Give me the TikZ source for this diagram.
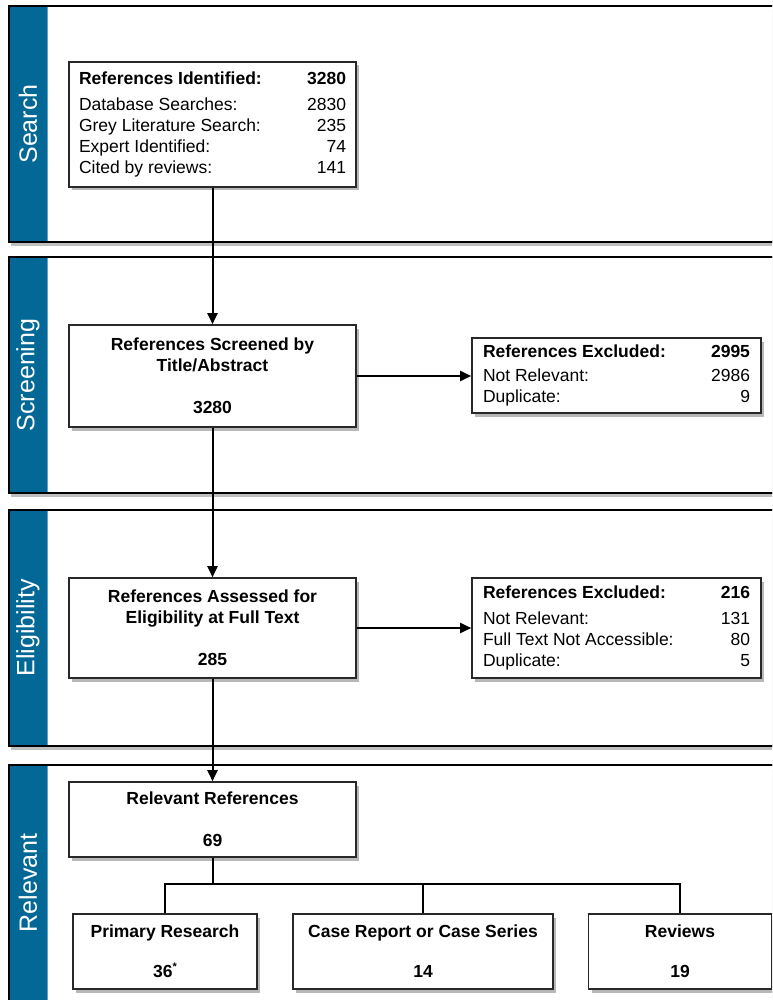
\documentclass[tikz,border=0pt]{standalone}
\usepackage{fontspec}
\setmainfont{Liberation Sans}
\usetikzlibrary{arrows.meta,shadows,calc}

\definecolor{stripblue}{RGB}{4,104,150}
\definecolor{stripedge}{RGB}{96,162,206}
\definecolor{boxline}{RGB}{40,40,40}

\tikzset{
  panel/.style={draw=black, line width=2.2pt, fill=white,
    drop shadow={shadow xshift=2pt, shadow yshift=-4pt, fill=black, opacity=0.25}},
  phase/.style={rotate=90, text=white, font=\fontsize{25}{30}\selectfont, inner sep=0pt},
  flowbox/.style={draw=boxline, line width=1.6pt, fill=white, inner sep=0pt,
    font=\fontsize{17.5}{21}\selectfont\bfseries, align=center,
    drop shadow={shadow xshift=3pt, shadow yshift=-3.5pt, fill=black, opacity=0.28}},
  listbox/.style={flowbox, font=\fontsize{17.5}{21}\selectfont},
  arr/.style={line width=2pt, -{Triangle[length=11pt,width=10pt]}},
  link/.style={line width=2pt}
}

\newcommand{\tally}[1]{\begin{tabular*}{267pt}{@{}l@{\extracolsep{\fill}}r@{}}#1\end{tabular*}}

\begin{document}
\begin{tikzpicture}[x=1pt, y=-1pt]
  \useasboundingbox (0,0) rectangle (772,1000);
  \clip (0,0) rectangle (772,1000);
  \fill[white] (0,0) rectangle (772,1000);

  % phase panels with their coloured side strips
  \foreach \t/\lab in {6/Search, 257/Screening, 510/Eligibility, 765/Relevant}{
    \path[panel] (9,\t) rectangle (800,\t+236);
    \fill[stripblue] (10,\t+1) rectangle (47,\t+235);
    \draw[stripedge, line width=1pt] (47.5,\t+1) -- (47.5,\t+235);
    \draw[black, line width=2.2pt] (9,\t) rectangle (800,\t+236);
    \node[phase] (lab-\lab) at (28,\t+118) {\lab};
  }

  % flow boxes
  \node[listbox, minimum width=287pt, minimum height=125pt] (ident) at (212.5,124.5)
    {\tally{\textbf{References Identified:} & \textbf{3280}\\[5pt]
      Database Searches: & 2830\\
      Grey Literature Search: & 235\\
      Expert Identified: & 74\\
      Cited by reviews: & 141}};

  \node[flowbox, minimum width=287pt, minimum height=102pt] (screen) at (212.5,376)
    {References Screened by\\Title/Abstract\\[21pt]3280};

  \node[listbox, minimum width=289pt, minimum height=75pt] (excl1) at (616.5,375.5)
    {\tally{\textbf{References Excluded:} & \textbf{2995}\\[3pt]
      Not Relevant: & 2986\\
      Duplicate: & 9}};

  \node[flowbox, minimum width=287pt, minimum height=100pt] (assess) at (212.5,628)
    {References Assessed for\\Eligibility at Full Text\\[21pt]285};

  \node[listbox, minimum width=289pt, minimum height=100pt] (excl2) at (616.5,628)
    {\tally{\textbf{References Excluded:} & \textbf{216}\\[5pt]
      Not Relevant: & 131\\
      Full Text Not Accessible: & 80\\
      Duplicate: & 5}};

  \node[flowbox, minimum width=287pt, minimum height=75pt] (relev) at (212.5,819.5)
    {Relevant References\\[21pt]69};

  \node[flowbox, minimum width=184pt, minimum height=75pt] (prim) at (165,951.5)
    {Primary Research\\[19pt]36\raisebox{7pt}{\fontsize{11}{11}\selectfont*}};
  \node[flowbox, minimum width=260pt, minimum height=75pt] (cases) at (423,951.5)
    {Case Report or Case Series\\[19pt]14};
  \node[flowbox, minimum width=183pt, minimum height=75pt] (revs) at (680,951.5)
    {Reviews\\[19pt]19};

  % connectors
  \draw[arr] (ident.south) -- (screen.north);
  \draw[arr] (screen.east) -- (screen.east -| excl1.west);
  \draw[arr] (screen.south) -- (assess.north);
  \draw[arr] (assess.east) -- (assess.east -| excl2.west);
  \draw[arr] (assess.south) -- (relev.north);

  \coordinate (split) at (212.5,884);
  \draw[link] (relev.south) -- (split);
  \draw[link] (prim.north) |- (split) -| (revs.north);
  \draw[link] (cases.north) -- (cases.north |- split);
\end{tikzpicture}
\end{document}
